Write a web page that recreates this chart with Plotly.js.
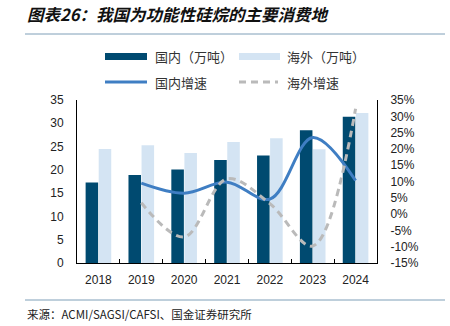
<!DOCTYPE html>
<html><head><meta charset="utf-8">
<script src="https://cdn.plot.ly/plotly-3.0.1.min.js"></script>
<style>html,body{margin:0;padding:0;background:#fff}#c{width:450px;height:326px}</style>
</head><body><div id="c"></div>
<script>
const years = ['2018','2019','2020','2021','2022','2023','2024'];
const domestic = [17.3, 18.9, 20.1, 22.1, 23.1, 28.5, 31.4];
const overseas = [24.5, 25.3, 23.6, 26.0, 26.8, 24.4, 32.2];
const domGrowth = [null, 9.5, 6.4, 9.8, 4.6, 23.5, 10.3];
const ovGrowth = [null, 3.5, -7.0, 10.8, 3.2, -9.8, 32.3];
const leftTicks = [0,5,10,15,20,25,30,35];
const rightTicks = [-15,-10,-5,0,5,10,15,20,25,30,35];
const names = ['国内（万吨）','海外（万吨）','国内增速','海外增速'];
const titleText = '图表26：我国为功能性硅烷的主要消费地';
const sourceText = '来源：ACMI/SAGSI/CAFSI、国金证券研究所';

const C_DOM = '#004a70', C_OV = '#d4e4f3', C_DL = '#3f7ec3', C_OL = '#bababa';
const cjk = '"Noto Sans CJK SC", sans-serif';
const num = '"Liberation Sans", Arial, sans-serif';

const traces = [
  {type:'bar', x:years, y:domestic, name:names[0], marker:{color:C_DOM}, yaxis:'y'},
  {type:'bar', x:years, y:overseas, name:names[1], marker:{color:C_OV}, yaxis:'y'},
  {type:'scatter', mode:'lines', x:years, y:domGrowth, name:names[2], yaxis:'y2',
   line:{color:C_DL, width:3, shape:'spline', smoothing:1}},
  {type:'scatter', mode:'lines', x:years, y:ovGrowth, name:names[3], yaxis:'y2',
   line:{color:C_OL, width:3, dash:'7px,5px', shape:'spline', smoothing:1}}
];

const W = 450, H = 326, L = 77, R = 73, T = 100, B = 63;
const pw = W - L - R, ph = H - T - B;
const px = x => (x - L) / pw, py = y => (H - B - y) / ph;
const shapes = [
  {type:'line', xref:'paper', yref:'paper', x0:px(25), x1:px(445), y0:py(34), y1:py(34), line:{color:'#7f9fb8', width:1}},
  {type:'line', xref:'paper', yref:'paper', x0:px(25), x1:px(445), y0:py(300), y1:py(300), line:{color:'#7f9fb8', width:1}},
  {type:'rect', xref:'paper', yref:'paper', x0:px(105), x1:px(147), y0:py(53), y1:py(60), fillcolor:C_DOM, line:{width:0}},
  {type:'rect', xref:'paper', yref:'paper', x0:px(239), x1:px(280), y0:py(53), y1:py(60), fillcolor:C_OV, line:{width:0}},
  {type:'line', xref:'paper', yref:'paper', x0:px(105), x1:px(147), y0:py(82), y1:py(82), line:{color:C_DL, width:3}},
  {type:'line', xref:'paper', yref:'paper', x0:px(239), x1:px(278), y0:py(82), y1:py(82), line:{color:C_OL, width:3, dash:'7px,5px'}}
];
const legPos = [[153,56],[285,56],[153,82],[285,82]];
const annotations = names.map((n,i)=>({text:n, xref:'paper', yref:'paper', x:px(legPos[i][0]), y:py(legPos[i][1]),
  xanchor:'left', yanchor:'middle', showarrow:false, font:{family:cjk, size:13, color:'#333'}}));
annotations.push({text:titleText, xref:'paper', yref:'paper', x:px(25), y:py(14), xanchor:'left', yanchor:'middle',
  showarrow:false, font:{family:cjk, size:16.5, color:'#111', style:'italic', weight:'bold'}});
annotations.push({text:sourceText, xref:'paper', yref:'paper', x:px(25), y:py(314), xanchor:'left', yanchor:'middle',
  showarrow:false, font:{family:cjk, size:11.5, color:'#222'}});

const layout = {
  width:W, height:H, margin:{l:L, r:R, t:T, b:B},
  paper_bgcolor:'#fff', plot_bgcolor:'#fff', showlegend:false,
  barmode:'group', bargap:0.39, bargroupgap:0.04,
  font:{family:num, size:12, color:'#222'},
  xaxis:{type:'category', showline:true, linecolor:'#000', linewidth:1, showgrid:false,
    ticks:'inside', tickson:'boundaries', ticklen:4, tickcolor:'#000', ticklabelstandoff:6,
    tickfont:{family:num, size:12, color:'#222'}, zeroline:false},
  yaxis:{range:[0,35], tickvals:leftTicks, showline:true, linecolor:'#000', linewidth:1, showgrid:false,
    zeroline:false, ticks:'', ticklabelstandoff:10, tickfont:{family:num, size:12, color:'#222'}},
  yaxis2:{range:[-15,35], tickvals:rightTicks, ticktext:rightTicks.map(v=>v+'%'), overlaying:'y', side:'right',
    showline:true, linecolor:'#000', linewidth:1, showgrid:false, zeroline:false, ticks:'', ticklabelstandoff:10,
    tickfont:{family:num, size:12, color:'#222'}},
  shapes:shapes, annotations:annotations
};
Plotly.newPlot('c', traces, layout, {staticPlot:true, displayModeBar:false});
</script></body></html>
